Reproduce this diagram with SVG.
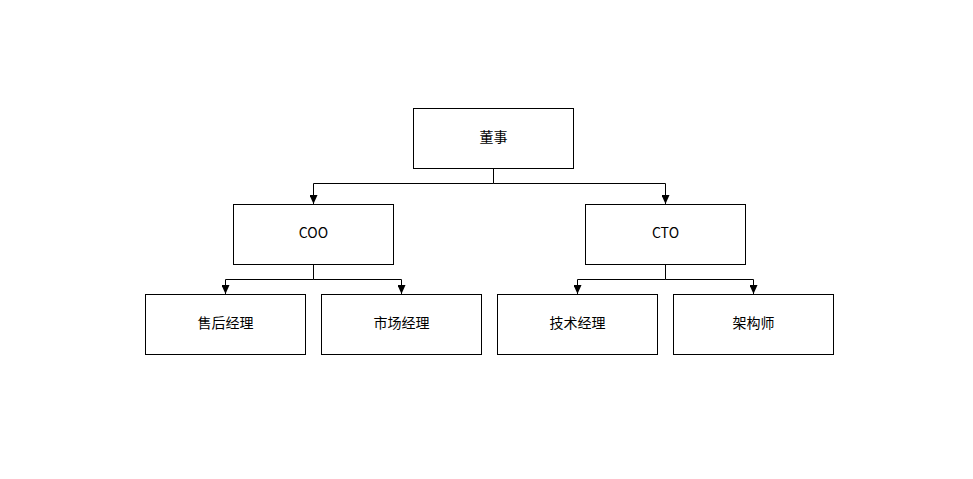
<svg xmlns="http://www.w3.org/2000/svg" width="973" height="479" viewBox="0 0 973 479">
<style>
.box{fill:#fff;stroke:#000;stroke-width:1}
.lbl{font-family:"Noto Sans CJK SC","Liberation Sans",sans-serif;font-size:14px;fill:#000;text-anchor:middle}
.con{fill:none;stroke:#000;stroke-width:1}
</style>
<defs>
<marker id="arr" markerUnits="userSpaceOnUse" markerWidth="8" markerHeight="9" refX="4" refY="9" orient="0" viewBox="0 0 8 9">
<path d="M0,0 L8,0 L4,9 Z" fill="#000"/>
</marker>
</defs>
<rect width="973" height="479" fill="#fff"/>
<g id="connectors">
<path class="con" d="M493.5,168.5 V183.5 H313.5 V204" marker-end="url(#arr)"/>
<path class="con" d="M493.5,183.5 H665.5 V204" marker-end="url(#arr)"/>
<path class="con" d="M313.5,264.5 V279.5 H225.5 V294" marker-end="url(#arr)"/>
<path class="con" d="M313.5,279.5 H401.5 V294" marker-end="url(#arr)"/>
<path class="con" d="M665.5,264.5 V279.5 H577.5 V294" marker-end="url(#arr)"/>
<path class="con" d="M665.5,279.5 H753.5 V294" marker-end="url(#arr)"/>
</g>
<g id="n_dongshi"><rect class="box" x="413.5" y="108.5" width="160" height="60"/><text class="lbl" x="493.5" y="142">董事</text></g>
<g id="n_coo"><rect class="box" x="233.5" y="204.5" width="160" height="60"/><text class="lbl" x="313.5" y="238">COO</text></g>
<g id="n_cto"><rect class="box" x="585.5" y="204.5" width="160" height="60"/><text class="lbl" x="665.5" y="238">CTO</text></g>
<g id="n_shouhou"><rect class="box" x="145.5" y="294.5" width="160" height="60"/><text class="lbl" x="225.5" y="328">售后经理</text></g>
<g id="n_shichang"><rect class="box" x="321.5" y="294.5" width="160" height="60"/><text class="lbl" x="401.5" y="328">市场经理</text></g>
<g id="n_jishu"><rect class="box" x="497.5" y="294.5" width="160" height="60"/><text class="lbl" x="577.5" y="328">技术经理</text></g>
<g id="n_jiagou"><rect class="box" x="673.5" y="294.5" width="160" height="60"/><text class="lbl" x="753.5" y="328">架构师</text></g>
</svg>
